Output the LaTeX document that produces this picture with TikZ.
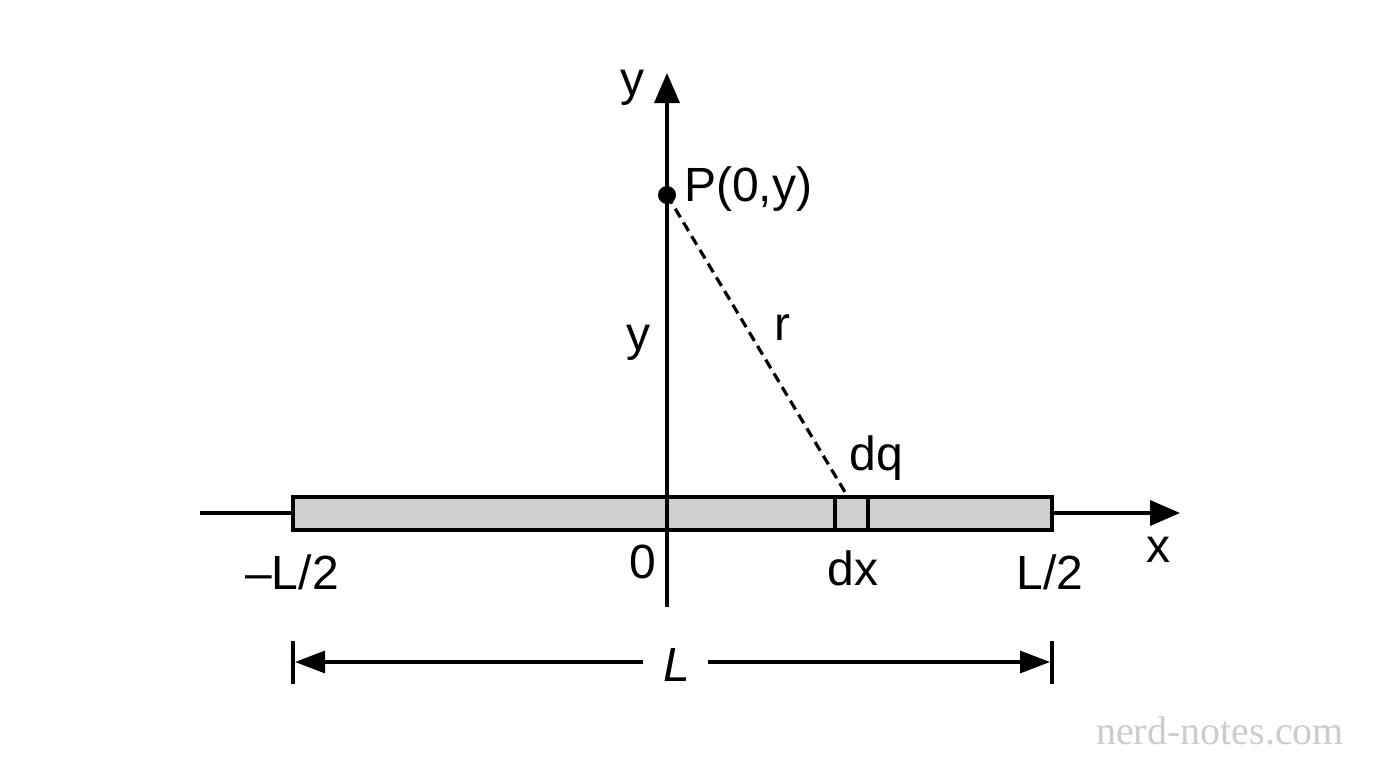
\documentclass[tikz,border=0pt]{standalone}
\usepackage{fontspec}
\setmainfont{Liberation Sans}
\newfontfamily\wmfont{Liberation Serif}
\usetikzlibrary{arrows.meta}
\begin{document}
\begin{tikzpicture}[x=1pt,y=-1pt,
  lbl/.style={font=\fontsize{48}{52}\selectfont, inner sep=0pt},
  axis/.style={line width=3.8pt, -{Triangle[length=30pt,width=25pt]}},
  dimarrow/.style={line width=3.2pt, -{Triangle[length=30pt,width=22pt]}},
  tick/.style={line width=3.2pt},
  rod/.style={draw, line width=3.8pt, fill=black!19}
]
\useasboundingbox[fill=white] (0,0) rectangle (1376,768);
% rod
\draw[rod] (293,497) rectangle (1052,530);
\node[inner sep=0pt, minimum width=33pt, minimum height=33pt, draw, line width=3.8pt, fill=black!19] (dq) at (851.5,513.5) {};
% axes
\coordinate (xs) at (200,513);
\coordinate (xe) at (1180,513);
\coordinate (ys) at (667,607);
\coordinate (ye) at (667,73);
\draw[line width=3.8pt] (xs) -- (293,513);
\draw[axis] (1052,513) -- (xe);
\draw[line width=3.8pt] (ys) -- (667,530);
\draw[axis] (667,530) -- (ye);
% point P
\node[circle, fill=black, inner sep=0pt, minimum size=18pt] (P) at (667,195) {};
\coordinate (dqtop) at (848,497);
\draw[line width=3.2pt, dash pattern=on 10pt off 6pt] (P.center) -- (dqtop);
% labels
\node[lbl] (ylab) at (632,88) {y};
\node[lbl, anchor=west] (Plab) at (684,189) {P(0,y)};
\node[lbl] (ylab2) at (638,343) {y};
\node[lbl] (rlab) at (782,328) {r};
\node[lbl] (dqlab) at (876,458) {dq};
\node[lbl] (zero) at (643,562) {0};
\node[lbl] (dxlab) at (853,568) {dx};
\node[lbl] (mL2) at (292,572) {\textendash L/2};
\node[lbl] (L2) at (1050,572) {L/2};
\node[lbl] (xlab) at (1158,550) {x};
% dimension
\coordinate (tl1) at (293,641);
\coordinate (tl2) at (293,684);
\coordinate (tr1) at (1052,641);
\coordinate (tr2) at (1052,684);
\draw[tick] (tl1) -- (tl2);
\draw[tick] (tr1) -- (tr2);
\node[lbl, font=\fontsize{48}{52}\selectfont\itshape] (Llab) at (677,665) {L};
\draw[dimarrow] (643,662) -- (295,662);
\draw[dimarrow] (708,662) -- (1050,662);
% watermark
\node[inner sep=0pt, text=black!20, font=\wmfont\fontsize{40}{44}\selectfont] (wm) at (1220,731) {nerd-notes.com};
\end{tikzpicture}
\end{document}
